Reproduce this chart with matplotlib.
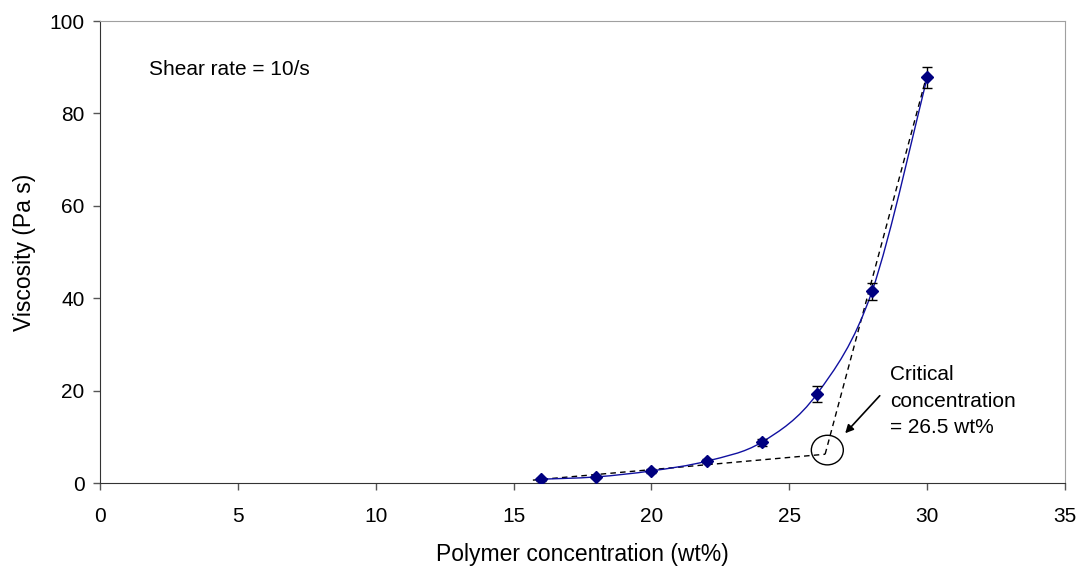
import matplotlib
matplotlib.use("Agg")
import matplotlib.pyplot as plt
import numpy as np
from matplotlib.path import Path
from matplotlib.patches import PathPatch, Ellipse

plt.rcParams["font.family"] = ["Liberation Sans", "DejaVu Sans"]

# measured data
conc = [16, 18, 20, 22, 24, 26, 28, 30]
visc = [0.9, 1.4, 2.7, 4.8, 8.9, 19.3, 41.5, 87.8]
visc_err = [0.3, 0.3, 0.4, 0.5, 0.8, 1.7, 1.8, 2.2]

# the two straight fits that cross at the critical concentration
dilute_x = [15.7, 26.3]
dilute_y = [0.7, 6.3]
conc_x = [26.3, 30.0]
conc_y = [6.3, 88.5]

crit_x, crit_y = 26.38, 7.2


def smooth_path(xs, ys):
    # Excel-style smoothed line: cubic bezier with catmull-rom tangents
    pts = np.column_stack([xs, ys]).astype(float)
    verts = [pts[0]]
    codes = [Path.MOVETO]
    n = len(pts)
    for i in range(n - 1):
        p0 = pts[i - 1] if i > 0 else pts[i]
        p1, p2 = pts[i], pts[i + 1]
        p3 = pts[i + 2] if i + 2 < n else pts[i + 1]
        c1 = p1 + (p2 - p0) / 6.0
        c2 = p2 - (p3 - p1) / 6.0
        verts += [c1, c2, p2]
        codes += [Path.CURVE4] * 3
    return Path(verts, codes)


fig = plt.figure(figsize=(10.8, 5.68), dpi=100)
ax = fig.add_axes([0.0926, 0.149, 0.8935, 0.814])

ax.add_patch(PathPatch(smooth_path(conc, visc), facecolor="none",
                       edgecolor="#1010a0", lw=1.0, zorder=3))

ax.plot(dilute_x, dilute_y, color="black", ls=(0, (4, 3)), lw=1.0, zorder=2)
ax.plot(conc_x, conc_y, color="black", ls=(0, (4, 3)), lw=1.0, zorder=2)

ax.errorbar(conc, visc, yerr=visc_err, fmt="D", color="#000080",
            markersize=6.5, ecolor="black", elinewidth=1, capsize=3.3,
            capthick=1, zorder=4)

ax.add_patch(Ellipse((crit_x, crit_y), 1.16, 6.4, facecolor="none",
                     edgecolor="black", lw=1.0, zorder=5))

ax.annotate("", xy=(26.96, 10.4), xytext=(28.35, 19.4),
            arrowprops=dict(arrowstyle="-|>", color="black", lw=1.2,
                            mutation_scale=12))
ax.text(28.65, 25.5, "Critical\nconcentration\n= 26.5 wt%", fontsize=15,
        va="top", ha="left", linespacing=1.5)
ax.text(1.78, 89.5, "Shear rate = 10/s", fontsize=15, va="center", ha="left")

ax.set_xlim(0, 35)
ax.set_ylim(0, 100)
ax.set_xticks(range(0, 36, 5))
ax.set_yticks(range(0, 101, 20))
ax.tick_params(labelsize=15, length=5, width=1, color="#555555")
ax.tick_params(axis="x", pad=12)
ax.tick_params(axis="y", pad=6)
ax.set_xlabel("Polymer concentration (wt%)", fontsize=16.5, labelpad=12)
ax.set_ylabel("Viscosity (Pa s)", fontsize=16.5, labelpad=10)

for side in ("top", "right"):
    ax.spines[side].set_color("#a0a0a0")
for side in ("left", "bottom"):
    ax.spines[side].set_color("#333333")

fig.savefig("out.png", dpi=100)
